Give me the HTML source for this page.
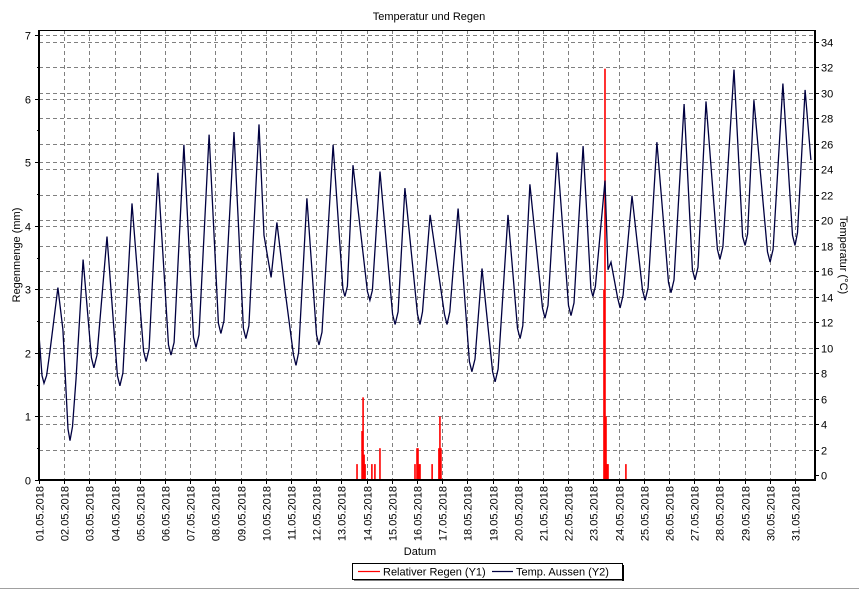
<!DOCTYPE html>
<html><head><meta charset="utf-8"><style>
body{margin:0;background:#fff;width:859px;height:590px;overflow:hidden;font-family:"Liberation Sans",sans-serif}
svg text{font-family:"Liberation Sans",sans-serif;font-size:11px;fill:#000}
</style></head><body>
<svg id="c" width="859" height="590" xmlns="http://www.w3.org/2000/svg">
<rect x="0" y="0" width="859" height="590" fill="#fff"/>
<line x1="0" y1="588.5" x2="859" y2="588.5" stroke="#a0a0a0"/>
<text x="429" y="20" text-anchor="middle" font-size="12">Temperatur und Regen</text>
<text transform="translate(20,255) rotate(-90)" text-anchor="middle">Regenmenge (mm)</text>
<text transform="translate(840,255) rotate(90)" text-anchor="middle">Temperatur (°C)</text>
<text x="420" y="555" text-anchor="middle">Datum</text>
<g id="grid"></g><g id="rain"></g><g id="temp"></g><g id="axes"></g>
<g>
<rect x="352.5" y="563.5" width="270" height="16" fill="#fff" stroke="#000"/>
<line x1="623" y1="565" x2="623" y2="581" stroke="#000" stroke-width="2"/>
<line x1="354" y1="580" x2="624" y2="580" stroke="#000" stroke-width="1"/>
<line x1="358" y1="571.5" x2="380" y2="571.5" stroke="#ff0000" stroke-width="1.2"/>
<text x="383" y="575.5">Relativer Regen (Y1)</text>
<line x1="492" y1="571.5" x2="513" y2="571.5" stroke="#000040" stroke-width="1.2"/>
<text x="516" y="575.5">Temp. Aussen (Y2)</text>
</g>
</svg>
<script>
const tempDays=[0,0.12,0.2,0.3,0.44,0.75,0.95,1.15,1.23,1.33,1.47,1.75,2.08,2.18,2.3,2.7,3.11,3.21,3.33,3.69,4.15,4.25,4.37,4.72,5.14,5.24,5.36,5.75,6.13,6.23,6.35,6.75,7.12,7.22,7.34,7.74,8.11,8.21,8.33,8.73,8.93,9.21,9.44,9.76,10.1,10.2,10.3,10.63,11.01,11.11,11.23,11.67,12.06,12.14,12.24,12.46,13.03,13.13,13.23,13.53,14.03,14.13,14.25,14.52,15.02,15.12,15.22,15.52,16.09,16.19,16.3,16.63,17.08,17.18,17.3,17.58,18.0,18.1,18.22,18.61,18.99,19.09,19.2,19.48,19.98,20.08,20.2,20.56,21.01,21.11,21.23,21.59,21.9,21.98,22.08,22.46,22.58,22.7,22.96,23.06,23.18,23.53,23.95,24.05,24.17,24.52,24.98,25.08,25.2,25.6,25.93,26.03,26.15,26.47,26.92,27.02,27.14,27.58,27.92,28.02,28.12,28.37,28.91,29.01,29.13,29.52,29.9,30.0,30.1,30.4,30.63];
const tempValues=[11.0,7.8,7.2,7.8,9.8,14.7,11.4,3.6,2.7,3.8,7.5,16.9,9.2,8.4,9.4,18.7,7.8,7.0,8.0,21.3,9.7,8.9,9.9,23.7,10.2,9.4,10.4,25.9,10.8,10.0,11.0,26.7,11.9,11.1,12.1,26.9,11.5,10.7,11.7,27.5,18.8,15.5,19.8,14.5,9.4,8.6,9.6,21.7,11.0,10.2,11.2,25.9,14.6,14.0,14.8,24.3,14.4,13.7,14.5,23.8,12.6,11.8,12.8,22.5,12.6,11.8,12.8,20.4,12.6,11.8,12.8,20.9,8.9,8.1,9.1,16.2,8.1,7.3,8.3,20.4,11.5,10.7,11.7,22.8,13.1,12.3,13.3,25.3,13.3,12.5,13.5,25.8,14.6,14.0,14.8,23.1,16.1,16.7,13.9,13.1,14.1,21.9,14.5,13.7,14.7,26.1,15.1,14.3,15.3,29.1,16.1,15.3,16.3,29.3,17.7,16.9,17.9,31.8,18.7,18.0,18.9,29.4,17.5,16.7,17.7,30.7,18.8,18.0,19.0,30.2,24.7];
const rainDays=[12.62,12.82,12.86,12.9,12.94,13.21,13.33,13.53,14.92,15.0,15.04,15.08,15.12,15.6,15.87,15.91,15.95,22.42,22.46,22.5,22.54,22.58,23.29];
const rainValues=[0.25,0.77,1.3,0.4,0.25,0.25,0.25,0.5,0.25,0.5,0.5,0.25,0.25,0.25,0.5,1.0,0.5,3.0,6.47,1.0,0.25,0.25,0.25];
const dateLabels=["01.05.2018","02.05.2018","03.05.2018","04.05.2018","05.05.2018","06.05.2018","07.05.2018","08.05.2018","09.05.2018","10.05.2018","11.05.2018","12.05.2018","13.05.2018","14.05.2018","15.05.2018","16.05.2018","17.05.2018","18.05.2018","19.05.2018","20.05.2018","21.05.2018","22.05.2018","23.05.2018","24.05.2018","25.05.2018","26.05.2018","27.05.2018","28.05.2018","29.05.2018","30.05.2018","31.05.2018"];
const y1Ticks=[0,1,2,3,4,5,6,7];
const y2Ticks=[0,2,4,6,8,10,12,14,16,18,20,22,24,26,28,30,32,34];
const L=39,R=815,T=30,B=480;
const xs=d=>L+d*25.2;
const y1=v=>480-v*63.57;
const y2=v=>475-v*12.75;
const NS="http://www.w3.org/2000/svg";
function mk(tag,parent,attrs){const e=document.createElementNS(NS,tag);for(const k in attrs)e.setAttribute(k,attrs[k]);document.getElementById(parent).appendChild(e);return e;}
dateLabels.forEach((lab,i)=>{const x=Math.round(xs(i))+0.5;
 const g=mk('line','grid',{x1:x,y1:T,x2:x,y2:B,stroke:'#808080','stroke-dasharray':'4,3'});
 
 
 const tk=mk('line','axes',{x1:x,y1:B,x2:x,y2:B+4,stroke:'#000'});
 
 
 const t=mk('text','axes',{transform:`translate(${x+4},${B+6}) rotate(-90)`,'text-anchor':'end'});
 t.textContent=lab;
 
 
});
y1Ticks.forEach(v=>{const y=Math.round(y1(v))+0.5;
 if(v>0){const g=mk('line','grid',{x1:L,y1:y,x2:R,y2:y,stroke:'#808080','stroke-dasharray':'4,3'});
 
 }
 const t=mk('text','axes',{x:31,y:y+4,'text-anchor':'end'});t.textContent=v;
 
 
 mk('line','axes',{x1:L-4,y1:y,x2:L,y2:y,stroke:'#000'});
 if(v<7){const ym=Math.round(y1(v+0.5))+0.5;mk('line','axes',{x1:L-2,y1:ym,x2:L,y2:ym,stroke:'#000'});}
});
y2Ticks.forEach(v=>{const y=Math.round(y2(v))+0.5;
 if(v>0){const g=mk('line','grid',{x1:L,y1:y,x2:R,y2:y,stroke:'#808080','stroke-dasharray':'4,3'});
 
 }
 const t=mk('text','axes',{x:821,y:y+4});t.textContent=v;
 
 
 mk('line','axes',{x1:R,y1:y,x2:R+4,y2:y,stroke:'#000'});
});
mk('line','axes',{x1:L,y1:T,x2:L,y2:B+1,stroke:'#000','stroke-width':2});
mk('line','axes',{x1:R,y1:T,x2:R,y2:B+1,stroke:'#000','stroke-width':2});
mk('line','axes',{x1:L,y1:B,x2:R+1,y2:B,stroke:'#000','stroke-width':2});
mk('line','axes',{x1:L,y1:T+0.5,x2:R,y2:T+0.5,stroke:'#000'});
rainDays.forEach((d,i)=>{const x=xs(d);const b=mk('rect','rain',{x:x-0.8,y:y1(rainValues[i]),width:1.6,height:B-y1(rainValues[i]),fill:'#ff0000'});
 
 });
const p=mk('polyline','temp',{points:tempDays.map((d,i)=>xs(d).toFixed(1)+','+y2(tempValues[i]).toFixed(1)).join(' '),fill:'none',stroke:'#000040','stroke-width':1.3});


</script>
</body></html>
